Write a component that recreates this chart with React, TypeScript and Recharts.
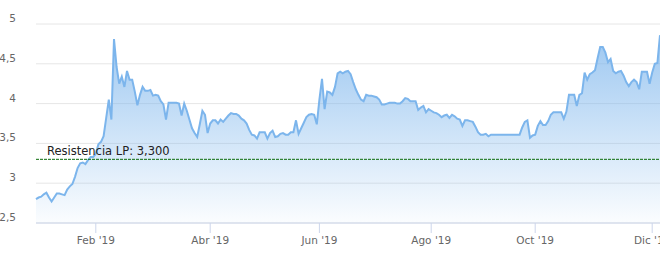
import React from 'react';
import {
  AreaChart,
  Area,
  XAxis,
  YAxis,
  CartesianGrid,
  ReferenceLine,
} from 'recharts';

// daily closes (Jan '19 -> early Dec '19)
const prices = [
  2.80, 2.82, 2.83, 2.86, 2.88, 2.82, 2.77, 2.82, 2.87, 2.87,
  2.86, 2.85, 2.92, 2.96, 2.99, 3.08, 3.19, 3.25, 3.26, 3.24,
  3.29, 3.33, 3.33, 3.37, 3.49, 3.52, 3.59, 3.82, 4.05, 3.80,
  4.81, 4.46, 4.25, 4.34, 4.21, 4.41, 4.30, 4.30, 4.15, 3.98,
  4.11, 4.21, 4.16, 4.16, 4.17, 4.10, 4.11, 4.10, 4.03, 3.99,
  3.80, 4.01, 4.01, 4.01, 4.01, 4.00, 3.85, 4.00, 3.91, 3.80,
  3.69, 3.63, 3.58, 3.74, 3.91, 3.86, 3.63, 3.75, 3.79, 3.79,
  3.75, 3.80, 3.77, 3.81, 3.85, 3.88, 3.87, 3.87, 3.85, 3.81,
  3.79, 3.75, 3.67, 3.61, 3.60, 3.56, 3.64, 3.64, 3.64, 3.56,
  3.63, 3.66, 3.58, 3.59, 3.62, 3.63, 3.61, 3.61, 3.64, 3.64,
  3.79, 3.62, 3.69, 3.76, 3.83, 3.86, 3.87, 3.86, 3.74, 4.05,
  4.31, 3.93, 4.15, 4.14, 4.11, 4.21, 4.38, 4.40, 4.38, 4.40,
  4.41, 4.37, 4.27, 4.18, 4.11, 4.05, 4.03, 4.11, 4.10, 4.10,
  4.09, 4.08, 4.05, 3.99, 3.99, 4.00, 4.01, 4.01, 4.01, 4.00,
  4.00, 4.03, 4.07, 4.06, 4.03, 4.03, 4.03, 3.92, 3.95, 3.97,
  3.89, 3.93, 3.91, 3.89, 3.88, 3.86, 3.83, 3.85, 3.86, 3.82,
  3.86, 3.84, 3.81, 3.80, 3.72, 3.79, 3.79, 3.78, 3.77, 3.71,
  3.64, 3.61, 3.61, 3.62, 3.59, 3.61, 3.61, 3.61, 3.61, 3.61,
  3.61, 3.61, 3.61, 3.61, 3.61, 3.61, 3.61, 3.70, 3.77, 3.79,
  3.57, 3.60, 3.61, 3.72, 3.78, 3.73, 3.73, 3.78, 3.86, 3.89,
  3.89, 3.89, 3.89, 3.81, 3.90, 4.11, 4.11, 4.11, 3.97, 4.11,
  4.13, 4.39, 4.30, 4.37, 4.39, 4.42, 4.57, 4.71, 4.71, 4.64,
  4.52, 4.56, 4.41, 4.38, 4.40, 4.41, 4.35, 4.27, 4.22, 4.27,
  4.30, 4.27, 4.18, 4.40, 4.40, 4.40, 4.25, 4.39, 4.50, 4.51,
  4.86,
];

// first trading day of each labelled month
const tickIdx = [23, 67, 109, 152, 192, 237];
const tickLabels = ["Feb '19", "Abr '19", "Jun '19", "Ago '19", "Oct '19", "Dic '19"];

const yTicks = [2.5, 3, 3.5, 4, 4.5, 5];

const resistance = 3.3;
const resistanceLabel = 'Resistencia LP: 3,300';

const data = prices.map((v, i) => ({ i, v }));

const FONT = '"DejaVu Sans", Verdana, sans-serif';

function YTick({ x, y, payload }: any) {
  return (
    <text x={x - 12} y={y - 2} textAnchor="end" fill="#666" fontSize={10.5} fontFamily={FONT}>
      {String(payload.value).replace('.', ',')}
    </text>
  );
}

function XTick({ x, y, payload }: any) {
  const k = tickIdx.indexOf(payload.value);
  return (
    <text x={x} y={y + 9} textAnchor="middle" fill="#666" fontSize={10.5} fontFamily={FONT}>
      {tickLabels[k]}
    </text>
  );
}

function ResLabel({ viewBox }: any) {
  return (
    <text x={viewBox.x + 11} y={viewBox.y - 4} fill="#222" fontSize={11.5} fontFamily={FONT}>
      {resistanceLabel}
    </text>
  );
}

export default function App() {
  return (
    <div style={{ position: 'absolute', left: 0, top: 0, background: '#fff' }}>
      <AreaChart
        width={660}
        height={255}
        data={data}
        margin={{ top: 24, right: 0, bottom: 0, left: 0 }}
      >
        <defs>
          <linearGradient id="fillBlue" x1="0" y1="0" x2="0" y2="1">
            <stop offset="0%" stopColor="#7cb5ec" stopOpacity={0.75} />
            <stop offset="100%" stopColor="#7cb5ec" stopOpacity={0.03} />
          </linearGradient>
        </defs>
        <CartesianGrid vertical={false} stroke="#e6e6e6" />
        <XAxis
          dataKey="i"
          type="number"
          domain={[0, prices.length - 1]}
          ticks={tickIdx}
          interval={0}
          height={32}
          axisLine={{ stroke: '#ccd6eb' }}
          tickLine={{ stroke: '#ccd6eb' }}
          tickSize={10}
          tick={<XTick />}
        />
        <YAxis
          domain={[2.5, 5]}
          ticks={yTicks}
          width={36}
          axisLine={false}
          tickLine={false}
          tick={<YTick />}
          interval={0}
        />
        <Area
          type="linear"
          dataKey="v"
          stroke="#7cb5ec"
          strokeWidth={2}
          fill="url(#fillBlue)"
          fillOpacity={1}
          dot={false}
          activeDot={false}
          isAnimationActive={false}
        />
        <ReferenceLine
          y={resistance}
          stroke="#0a6b0a"
          strokeDasharray="3 1"
          strokeWidth={1}
          label={<ResLabel />}
        />
      </AreaChart>
    </div>
  );
}
